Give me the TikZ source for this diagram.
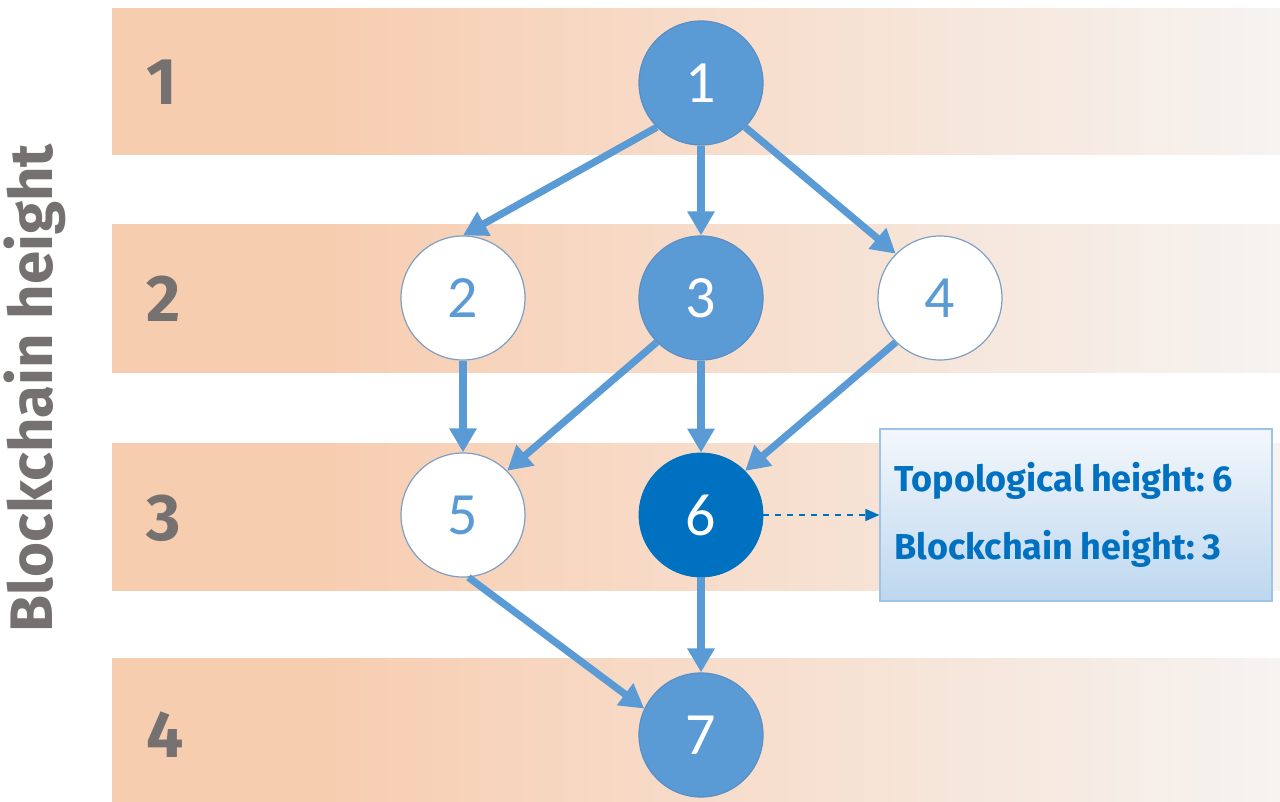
\documentclass[tikz,border=0pt]{standalone}
\usepackage{fontspec}
\usepackage{xcolor}
\usepackage{tikz}
\usetikzlibrary{positioning, arrows.meta, backgrounds}
\newfontfamily\labelfont{Fira Sans}
\newfontfamily\digitfont{Carlito}
\newcommand\tightwords{\frenchspacing\spaceskip=0.2em plus 0.05em\relax}
\definecolor{bandleft}{HTML}{F7CDB0}
\definecolor{bandright}{HTML}{F6F3F1}
\definecolor{blockblue}{HTML}{5B9BD5}
\definecolor{blockedge}{HTML}{5A8EC4}
\definecolor{tipblue}{HTML}{0070C0}
\definecolor{ringline}{HTML}{7F9FC2}
\definecolor{greytext}{HTML}{767171}
\definecolor{infotop}{HTML}{F3F7FC}
\definecolor{infobottom}{HTML}{BDD7EE}
\definecolor{infoline}{HTML}{9DC3E6}
\pgfdeclarehorizontalshading{bandshade}{100bp}{color(0bp)=(bandleft); color(34bp)=(bandleft); color(75bp)=(bandright); color(100bp)=(bandright)}

\begin{document}
\begin{tikzpicture}[
  x=0.5pt, y=-0.5pt,
  block/.style={
    circle,
    minimum size=62pt,
    inner sep=0pt,
    font=\digitfont\fontsize{30}{30}\selectfont,
  },
  mainblock/.style={block, fill=blockblue, draw=blockedge, line width=0.6pt, text=white},
  sideblock/.style={block, fill=white, draw=ringline, line width=0.6pt, text=blockblue},
  tipblock/.style={block, fill=tipblue, draw=tipblue, text=white},
  band/.style={shading=bandshade, draw=none},
  levellabel/.style={
    font=\labelfont\bfseries\fontsize{33}{33}\selectfont,
    text=greytext,
  },
  axislabel/.style={
    font=\labelfont\bfseries\fontsize{30}{30}\selectfont,
    text=greytext,
    rotate=90,
  },
  link/.style={
    -{Triangle[length=12pt, width=13pt]},
    line width=3.6pt,
    draw=blockblue,
  },
  pointer/.style={
    -{Triangle[length=7pt, width=6pt]},
    dashed,
    line width=0.7pt,
    draw=tipblue,
  },
  infobox/.style={
    rectangle,
    top color=infotop,
    bottom color=infobottom,
    draw=infoline,
    line width=1pt,
    minimum width=196pt,
    minimum height=86pt,
    align=left,
    text=tipblue,
    inner xsep=7pt,
    text width=182pt,
    font=\labelfont\bfseries\fontsize{18}{34}\selectfont,
  },
]
  \useasboundingbox (0,0) rectangle (1280,802);

  % height bands
  \shade[band] (112,9) rectangle (1280,155);
  \shade[band] (112,225) rectangle (1280,372);
  \shade[band] (112,443) rectangle (1280,590);
  \shade[band] (112,658) rectangle (1280,802);

  \node[levellabel] (h1) at (162,82) {1};
  \node[levellabel] (h2) at (164,299) {2};
  \node[levellabel] (h3) at (164,518) {3};
  \node[levellabel] (h4) at (165,735) {4};

  \node[axislabel] (axis) at (35,388) {Blockchain height};

  % blocks
  \node[mainblock] (b1) at (701,83) {1};
  \node[sideblock] (b2) at (463,298) {2};
  \node[mainblock] (b3) at (701,298) {3};
  \node[sideblock] (b4) at (940,298) {4};
  \node[sideblock] (b5) at (463,515) {5};
  \node[tipblock]  (b6) at (701,515) {6};
  \node[mainblock] (b7) at (701,735) {7};

  \node[infobox, right=58pt of b6] (info) {\tightwords Topological height: 6\\Blockchain height: 3};

  \draw[link] (b1.225) -- (b2.north);
  \draw[link] (b1) -- (b3);
  \draw[link] (b1.-45) -- (b4.135);
  \draw[link] (b2) -- (b5);
  \draw[link] (b3.225) -- (b5.45);
  \draw[link] (b3) -- (b6);
  \draw[link] (b4.225) -- (b6.45);
  \draw[link] (b5.-85) -- (b7.155);
  \draw[link] (b6) -- (b7);
  \draw[pointer] (b6) -- (info);
\end{tikzpicture}
\end{document}
